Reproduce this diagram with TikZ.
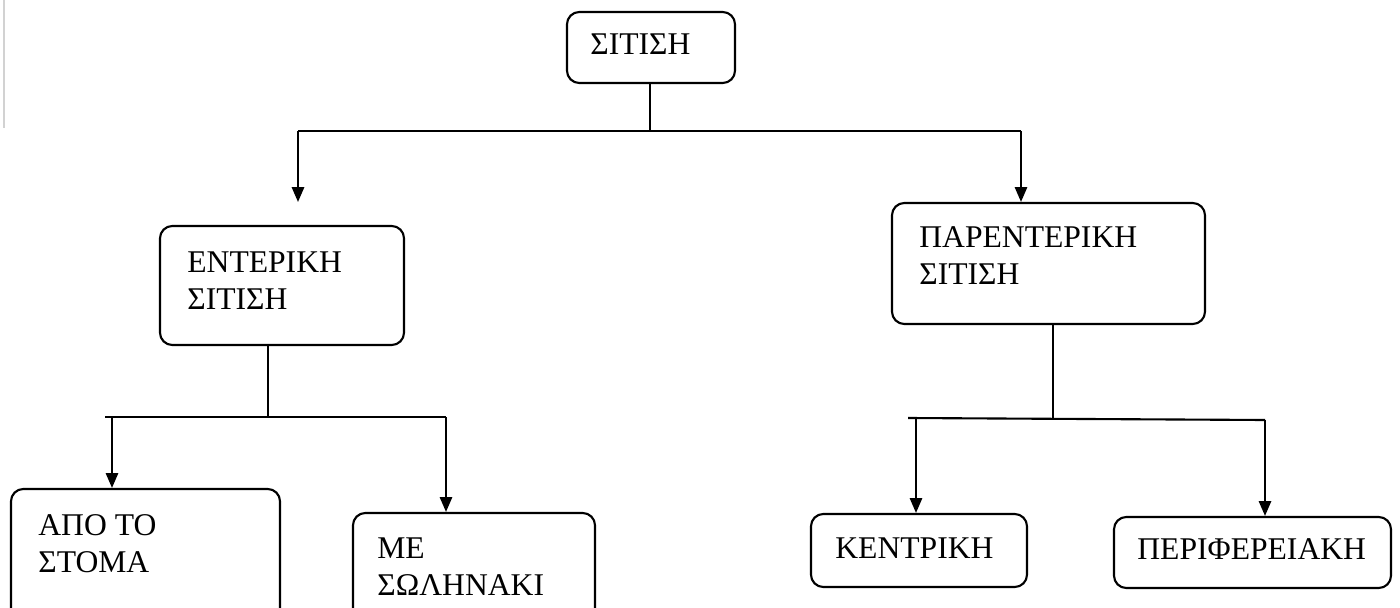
\documentclass[tikz,border=0pt]{standalone}
\usepackage{fontspec}
\setmainfont{Liberation Serif}
\usetikzlibrary{arrows.meta,positioning,fit}
\begin{document}
\begin{tikzpicture}[x=0.02cm,y=-0.02cm,
  box/.style={draw, rounded corners=7pt, line width=1.2pt, inner sep=0pt},
  lbl/.style={font=\fontsize{18}{21}\selectfont, align=left, inner sep=0pt, anchor=base west},
  conn/.style={line width=1.2pt},
  arr/.style={conn, -{Triangle[width=7pt,length=8.5pt]}}]
\useasboundingbox (0,0) rectangle (1400,608);
\fill[white] (0,0) rectangle (1400,608);
\draw[gray!35, line width=1pt] (4,0) -- (4,128);

% boxes
\node[box, fit={(567,12) (735,83)}] (root) {};
\node[box, fit={(160,226) (404,345)}] (ent) {};
\node[box, fit={(892,203) (1205,324)}] (par) {};
\node[box, fit={(11,489) (280,660)}] (oral) {};
\node[box, fit={(353,513) (595,660)}] (tube) {};
\node[box, fit={(811,514) (1027,587)}] (cent) {};
\node[box, fit={(1114,517) (1391,588)}] (peri) {};

% labels (base anchor = baseline of the last line)
\node[lbl] (roott) at (590,55) {ΣΙΤΙΣΗ};
\node[lbl] (entt) at (187,309) {ΕΝΤΕΡΙΚΗ\\ΣΙΤΙΣΗ};
\node[lbl] (part) at (919,284) {ΠΑΡΕΝΤΕΡΙΚΗ\\ΣΙΤΙΣΗ};
\node[lbl] (oralt) at (38,572) {ΑΠΟ ΤΟ\\ΣΤΟΜΑ};
\node[lbl] (tubet) at (377,595) {ΜΕ\\ΣΩΛΗΝΑΚΙ};
\node[lbl] (centt) at (835,558) {ΚΕΝΤΡΙΚΗ};
\node[lbl] (perit) at (1137,559) {ΠΕΡΙΦΕΡΕΙΑΚΗ};

% junctions
\coordinate (j1) at (650,131);
\coordinate (j1L) at (298,131);
\coordinate (j1R) at (1021,131);
\coordinate (t1L) at (298,202);
\coordinate (j2) at (268,417);
\coordinate (j2L) at (112,417);
\coordinate (j2R) at (446,417);
\coordinate (j2s) at (105,417);
\coordinate (j3) at (1053,418);
\coordinate (j3L) at (916,418);
\coordinate (j3R) at (1265,420);
\coordinate (j3s) at (908,418);

% top level
\draw[conn] (j1 |- root.south) -- (j1);
\draw[conn] (j1L) -- (j1R);
\draw[arr] (j1L) -- (t1L);
\draw[arr] (j1R) -- (j1R |- par.north);

% left branch
\draw[conn] (j2 |- ent.south) -- (j2);
\draw[conn] (j2s) -- (j2R);
\draw[arr] (j2L) -- (j2L |- oral.north);
\draw[arr] (j2R) -- (j2R |- tube.north);

% right branch
\draw[conn] (j3 |- par.south) -- (j3);
\draw[conn] (j3s) -- (j3R);
\draw[arr] (j3L) -- (j3L |- cent.north);
\draw[arr] (j3R) -- (j3R |- peri.north);
\end{tikzpicture}
\end{document}
